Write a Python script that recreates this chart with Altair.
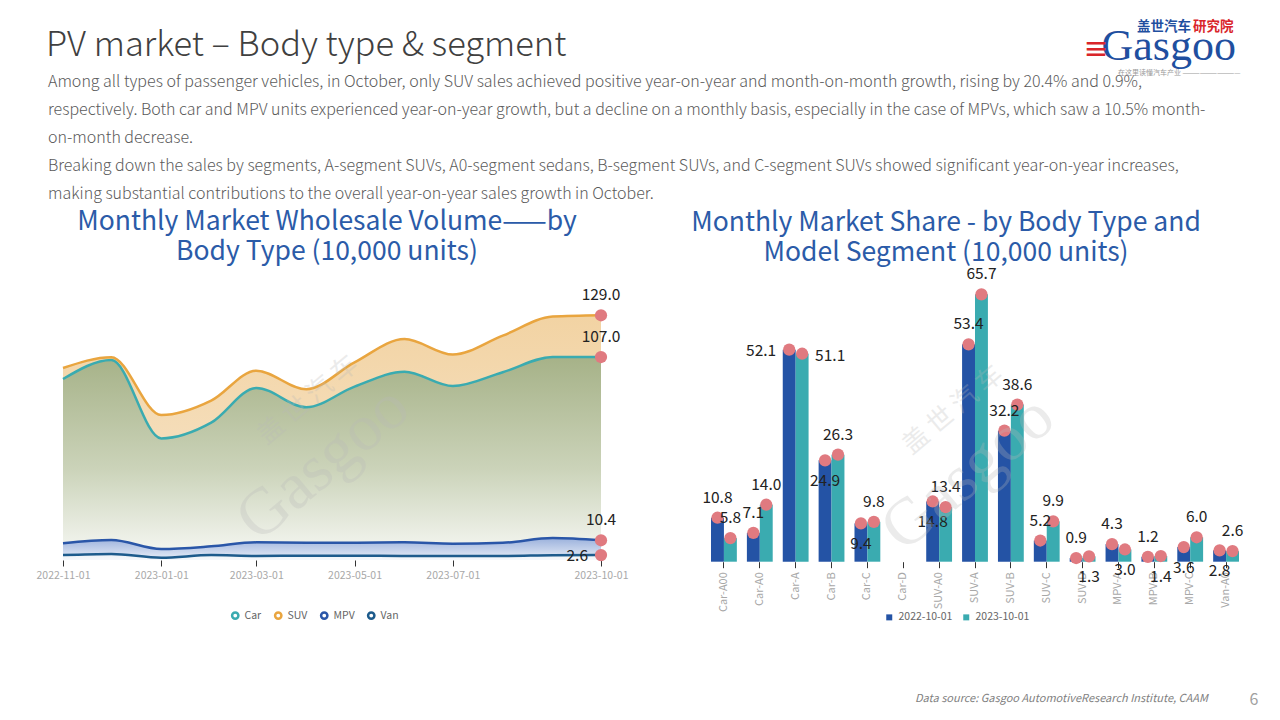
import altair as alt
import pandas as pd

FONT = "Noto Sans CJK SC"

# ---------------- Left chart data: monthly wholesale volume (10,000 units) ----------------
months = ["2022-11-01", "2022-12-01", "2023-01-01", "2023-02-01", "2023-03-01", "2023-04-01",
          "2023-05-01", "2023-06-01", "2023-07-01", "2023-08-01", "2023-09-01", "2023-10-01"]
car_vol = [95.4, 105.4, 64.1, 72.4, 90.7, 80.5, 91.4, 99.3, 91.7, 99.0, 107.0, 107.0]
suv_vol = [101.2, 106.9, 76.4, 84.0, 99.8, 90.0, 104.2, 116.5, 108.3, 118.3, 128.3, 129.0]
mpv_vol = [8.8, 10.5, 5.8, 7.2, 9.3, 9.1, 9.1, 9.3, 8.6, 9.1, 11.6, 10.4]
van_vol = [2.6, 3.2, 1.2, 2.6, 2.1, 2.3, 2.3, 2.1, 2.1, 2.1, 2.5, 2.6]
body_types = ["Car", "SUV", "MPV", "Van"]
body_colors = ["#3aabb0", "#e9a53f", "#2a56a8", "#1d5b8c"]
end_label_place = ["above", "above", "above", "left"]
left_ticks = ["2022-11-01", "2023-01-01", "2023-03-01", "2023-05-01", "2023-07-01", "2023-10-01"]

# ---------------- Right chart data: segment volume ----------------
segments = ["Car-A00", "Car-A0", "Car-A", "Car-B", "Car-C", "Car-D", "SUV-A0", "SUV-A", "SUV-B",
            "SUV-C", "SUV-D", "MPV-A", "MPV-B", "MPV-C", "Van-A0"]
vol_2022 = [10.8, 7.1, 52.1, 24.9, 9.4, None, 14.8, 53.4, 32.2, 5.2, 0.9, 4.3, 1.2, 3.6, 2.8]
vol_2023 = [5.8, 14.0, 51.1, 26.3, 9.8, None, 13.4, 65.7, 38.6, 9.9, 1.3, 3.0, 1.4, 6.0, 2.6]
series_names = ["2022-10-01", "2023-10-01"]
series_colors = ["#2453a5", "#3aabb0"]
place_2022 = ["above", "above", "left", "below", "below", "above", "below", "above", "above",
              "above", "above", "above", "above", "below", "below"]
place_2023 = ["above", "above", "right", "above", "above", "above", "above", "above", "above",
              "above", "below", "below", "below", "above", "above"]

PINK = "#e07a80"
W, H = 1264, 704


def ms(d):
    return int(pd.Timestamp(d, tz="UTC").value // 10**6)


# build tables
vals_by_type = {"Car": car_vol, "SUV": suv_vol, "MPV": mpv_vol, "Van": van_vol}
rows = []
for t, pl in zip(body_types, end_label_place):
    for i, (m, v) in enumerate(zip(months, vals_by_type[t])):
        rows.append({"date": m, "type": t, "value": v,
                     "place": pl if i == len(months) - 1 else ""})
left_df = pd.DataFrame(rows)

rows = []
for s, a, b, pa, pb in zip(segments, vol_2022, vol_2023, place_2022, place_2023):
    rows.append({"seg": s, "series": series_names[0], "value": a, "place": pa})
    rows.append({"seg": s, "series": series_names[1], "value": b, "place": pb})
right_df = pd.DataFrame(rows)

one = pd.DataFrame({"a": [0]})

# ---------------- Left chart ----------------
LB = 552.0
lx = alt.X("date:T",
           scale=alt.Scale(type="utc", domain=[ms(months[0]), ms(months[-1])], range=[55, 593]),
           axis=alt.Axis(orient="bottom", offset=LB - H, values=[ms(d) for d in left_ticks],
                         format="%Y-%m-%d", domain=False, grid=False, ticks=True,
                         tickColor="#333333", tickSize=6, labelColor="#a8a8a8", labelFontSize=10.5,
                         labelFont=FONT, labelPadding=4, labelOverlap=False, labelFlush=False,
                         title=None))
ly = alt.Y("value:Q", stack=None,
           scale=alt.Scale(domain=[0, 140], range=[LB, LB - 140 * 1.897]), axis=None)


def grad(stops):
    return alt.LinearGradient(gradient="linear",
                              stops=[alt.GradientStop(color=c, offset=o) for o, c in stops],
                              x1=0, x2=0, y1=0, y2=1)


area_fills = {
    "SUV": grad([(0, "#f2d3a3"), (1, "#f8e7cf")]),
    "Car": grad([(0, "#a6b288"), (0.55, "#cbd3b9"), (1, "#f8f9f6")]),
    "MPV": grad([(0, "#9bb1dc"), (1, "#e9eff8")]),
    "Van": grad([(0, "#edf2f7"), (1, "#f6f8fb")]),
}

left_layers = []
for t in ["SUV", "Car", "MPV", "Van"]:
    left_layers.append(
        alt.Chart(left_df).transform_filter(alt.datum.type == t)
        .mark_area(interpolate="monotone", color=area_fills[t])
        .encode(x=lx, y=ly)
    )

left_lines = alt.Chart(left_df).mark_line(interpolate="monotone", strokeWidth=2.5).encode(
    x=lx, y=ly,
    color=alt.Color("type:N", sort=body_types,
                    scale=alt.Scale(domain=body_types, range=body_colors),
                    legend=alt.Legend(orient="none", legendX=222, legendY=602, direction="horizontal",
                                      title=None, symbolType="circle", symbolSize=40,
                                      symbolStrokeWidth=2.5, symbolFillColor="white",
                                      labelFontSize=10.5, labelColor="#666666", labelFont=FONT,
                                      columnPadding=8, labelOffset=4)),
    detail="type:N",
)
left_dots = alt.Chart(left_df).transform_filter(alt.datum.place != "").mark_circle(
    size=150, color=PINK, opacity=1).encode(x=lx, y=ly)


def left_text(place, **kw):
    return alt.Chart(left_df).transform_filter(alt.datum.place == place).mark_text(
        font=FONT, fontSize=15.5, color="#222222", **kw).encode(
        x=lx, y=ly, text=alt.Text("value:Q", format=".1f"))


left_chart = alt.layer(*left_layers, left_lines, left_dots,
                       left_text("above", dy=-20),
                       left_text("left", align="right", dx=-13, dy=1))

# ---------------- Right chart ----------------
RB = 553.7
rx = alt.X("seg:N", sort=segments,
           scale=alt.Scale(domain=segments, range=[698, 1236], paddingInner=0.28, paddingOuter=0.14),
           axis=alt.Axis(orient="bottom", offset=RB - H, labelAngle=270, domain=False, grid=False,
                         ticks=True, tickColor="#333333", tickSize=6, labelColor="#a8a8a8",
                         labelFontSize=11, labelFont=FONT, labelPadding=4, title=None))
rxo = alt.XOffset("series:N", sort=series_names, scale=alt.Scale(domain=series_names))
ry = alt.Y("value:Q", scale=alt.Scale(domain=[0, 70], range=[RB, RB - 70 * 4.07]), axis=None)

bars = alt.Chart(right_df).mark_bar().encode(
    x=rx, xOffset=rxo, y=ry,
    color=alt.Color("series:N", sort=series_names,
                    scale=alt.Scale(domain=series_names, range=series_colors),
                    legend=alt.Legend(orient="none", legendX=876, legendY=604, direction="horizontal",
                                      title=None, symbolType="square", symbolSize=36,
                                      labelFontSize=10.5, labelColor="#666666", labelFont=FONT,
                                      columnPadding=8, labelOffset=4)),
)
valid = "isValid(datum.value) && isFinite(datum.value)"
right_dots = alt.Chart(right_df).transform_filter(valid).mark_circle(
    size=150, color=PINK, opacity=1).encode(x=rx, xOffset=rxo, y=ry)


def right_text(place, **kw):
    return alt.Chart(right_df).transform_filter(valid).transform_filter(
        alt.datum.place == place).mark_text(font=FONT, fontSize=15.5, color="#222222", **kw).encode(
        x=rx, xOffset=rxo, y=ry, text=alt.Text("value:Q", format=".1f"))


right_chart = alt.layer(bars, right_dots,
                        right_text("above", dy=-20),
                        right_text("below", dy=21),
                        right_text("left", align="right", dx=-13, dy=1),
                        right_text("right", align="left", dx=13, dy=2))


# ---------------- Static texts ----------------
def txt(text, x, y, size, color, align="left", baseline="alphabetic", **kw):
    return alt.Chart(one).mark_text(text=text, fontSize=size, color=color, align=align,
                                    baseline=baseline, **{"font": FONT, **kw}).encode(
        x=alt.value(x), y=alt.value(y))


header = txt("PV market – Body type & segment", 38, 48, 34.5, "#404040", fontWeight=300)
paragraph = txt([
    "Among all types of passenger vehicles, in October, only SUV sales achieved positive year-on-year and month-on-month growth, rising by 20.4% and 0.9%,",
    "respectively. Both car and MPV units experienced year-on-year growth, but a decline on a monthly basis, especially in the case of MPVs, which saw a 10.5% month-",
    "on-month decrease.",
    "Breaking down the sales by segments, A-segment SUVs, A0-segment sedans, B-segment SUVs, and C-segment SUVs showed significant year-on-year increases,",
    "making substantial contributions to the overall year-on-year sales growth in October.",
], 40, 79, 16, "#5a5a5a", lineHeight=28, fontWeight=300)

TITLE_BLUE = "#2b5ba8"
left_title = txt(["Monthly Market Wholesale Volume——by", "Body Type (10,000 units)"],
                 319, 222, 26.5, TITLE_BLUE, align="center", lineHeight=30)
right_title = txt(["Monthly Market Share - by Body Type and", "Model Segment (10,000 units)"],
                  938, 223, 26.5, TITLE_BLUE, align="center", lineHeight=30)

footer = txt("Data source: Gasgoo AutomotiveResearch Institute, CAAM", 907, 694, 11, "#7f7f7f",
             fontStyle="italic")
page_no = txt("6", 1246, 697, 16, "#a0a0a0", align="center")

logo_cn1 = txt("盖世汽车", 1129, 23, 13.5, "#1f4f9f", fontWeight="bold")
logo_cn2 = txt("研究院", 1185, 23, 13.5, "#d9252a", fontWeight="bold")
logo_en = txt("Gasgoo", 1228, 52, 44, "#1f4f9f", align="right", font="Liberation Serif")
logo_bars = txt("≡", 1088, 51, 26, "#d9252a", align="center", fontWeight="bold")
logo_tag = txt("在这里读懂汽车产业 ——————————", 1110, 67, 7, "#9a9a9a")

wm = dict(color="#b9b9b9", opacity=0.28, angle=320, align="center", baseline="middle")
wm_left_en = txt("Gasgoo", 315, 455, 66, **{**wm, "font": "Liberation Serif"})
wm_left_cn = txt("盖 世 汽 车", 300, 392, 26, **wm)
wm_right_en = txt("Gasgoo", 960, 465, 66, **{**wm, "font": "Liberation Serif"})
wm_right_cn = txt("盖 世 汽 车", 945, 402, 26, **wm)

chart = alt.layer(
    left_chart, right_chart,
    wm_left_en, wm_left_cn, wm_right_en, wm_right_cn,
    header, paragraph, left_title, right_title, footer, page_no,
    logo_cn1, logo_cn2, logo_en, logo_bars, logo_tag,
).resolve_scale(
    x="independent", y="independent", color="independent"
).resolve_legend(color="independent").properties(
    width=W, height=H, padding=0, autosize=alt.AutoSizeParams(type="none"),
    background="white",
).configure_view(stroke=None)

chart.save("out.html", embed_options={"renderer": "svg", "actions": False})
